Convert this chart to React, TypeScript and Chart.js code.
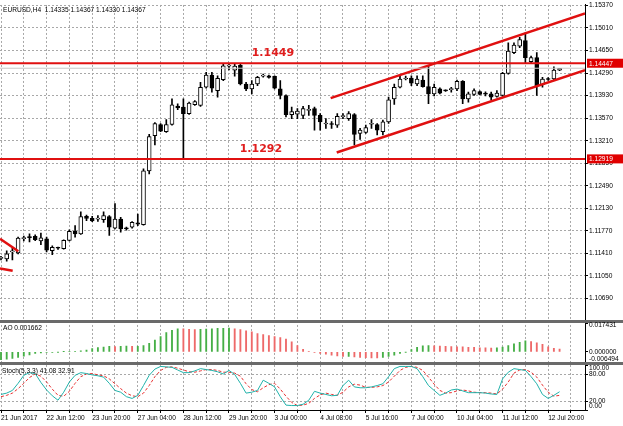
import React, { useEffect, useRef } from "react";
import { Chart, registerables } from "chart.js";

Chart.register(...registerables);

// ---------- headers ----------
const symbolHeader = "EURUSD,H4  1.14335 1.14367 1.14330 1.14367";
const aoHeader = "AO 0.001662";
const stochHeader = "Stoch(5,3,3) 41.08 32.91";

// ---------- time axis ----------
const timeLabels = [
  "21 Jun 2017", "22 Jun 12:00", "23 Jun 20:00", "27 Jun 04:00", "28 Jun 12:00",
  "29 Jun 20:00", "3 Jul 00:00", "4 Jul 08:00", "5 Jul 16:00", "7 Jul 00:00",
  "10 Jul 04:00", "11 Jul 12:00", "12 Jul 20:00",
];
const barsPerLabel = 8;
const barsPerGrid = 4;
const xMin = -0.175;
const xMax = 102.46;

// ---------- candles (EURUSD H4) ----------
const opens = [
  1.11330, 1.11323, 1.11433, 1.11417, 1.11646, 1.11670, 1.11681, 1.11607, 1.11643, 1.11454,
  1.11496, 1.11485, 1.11618, 1.11760, 1.11722, 1.12001, 1.11970, 1.11958, 1.11949, 1.11996,
  1.11812, 1.11958, 1.11807, 1.11828, 1.11899, 1.11870, 1.12727, 1.13290, 1.13469, 1.13353,
  1.13469, 1.13764, 1.13748, 1.13642, 1.13784, 1.13773, 1.14064, 1.14258, 1.14010, 1.14184,
  1.14400, 1.14337, 1.14415, 1.14116, 1.14037, 1.14116, 1.14242, 1.14247, 1.14237, 1.14037,
  1.13931, 1.13626, 1.13634, 1.13615, 1.13694, 1.13721, 1.13615, 1.13477, 1.13477, 1.13458,
  1.13595, 1.13563, 1.13626, 1.13327, 1.13342, 1.13473, 1.13469, 1.13353, 1.13511, 1.13879,
  1.14064, 1.14195, 1.14210, 1.14116, 1.14179, 1.14073, 1.13958, 1.14037, 1.14013, 1.14026,
  1.14037, 1.14158, 1.13879, 1.13947, 1.13994, 1.13958, 1.13958, 1.13915, 1.13931, 1.14284,
  1.14616, 1.14720, 1.14810, 1.14474, 1.14537, 1.14105, 1.14202, 1.14195, 1.14335,
];
const highs = [
  1.11362, 1.11449, 1.11496, 1.11670, 1.11686, 1.11722, 1.11706, 1.11733, 1.11670, 1.11530,
  1.11512, 1.11627, 1.11785, 1.11854, 1.12075, 1.12022, 1.12001, 1.12012, 1.12075, 1.12012,
  1.12206, 1.11985, 1.11828, 1.11917, 1.12037, 1.12759, 1.13311, 1.13500, 1.13484, 1.13548,
  1.13879, 1.13800, 1.13879, 1.13827, 1.13852, 1.14142, 1.14300, 1.14300, 1.14247, 1.14447,
  1.14447, 1.14431, 1.14431, 1.14142, 1.14168, 1.14237, 1.14273, 1.14258, 1.14247, 1.14168,
  1.13942, 1.13748, 1.13721, 1.13757, 1.13773, 1.13748, 1.13642, 1.13563, 1.13516, 1.13642,
  1.13642, 1.13674, 1.13642, 1.13406, 1.13458, 1.13548, 1.13484, 1.13537, 1.13906, 1.14116,
  1.14247, 1.14242, 1.14247, 1.14247, 1.14247, 1.14404, 1.14116, 1.14053, 1.14021, 1.14064,
  1.14179, 1.14168, 1.13985, 1.14037, 1.14005, 1.13989, 1.13985, 1.14010, 1.14300, 1.14774,
  1.14774, 1.14862, 1.14931, 1.14562, 1.14616, 1.14221, 1.14218, 1.14389, 1.14367,
];
const lows = [
  1.11307, 1.11286, 1.11307, 1.11401, 1.11607, 1.11591, 1.11611, 1.11548, 1.11433, 1.11390,
  1.11472, 1.11476, 1.11607, 1.11670, 1.11712, 1.11933, 1.11917, 1.11922, 1.11906, 1.11697,
  1.11801, 1.11749, 1.11780, 1.11812, 1.11854, 1.11859, 1.12680, 1.13142, 1.13353, 1.13342,
  1.13458, 1.13705, 1.12925, 1.13631, 1.13773, 1.13757, 1.14048, 1.13985, 1.13906, 1.14168,
  1.14341, 1.14242, 1.14100, 1.14010, 1.13958, 1.14089, 1.14226, 1.14210, 1.14037, 1.13879,
  1.13590, 1.13563, 1.13563, 1.13563, 1.13615, 1.13379, 1.13379, 1.13406, 1.13406, 1.13421,
  1.13563, 1.13532, 1.13142, 1.13232, 1.13327, 1.13406, 1.13300, 1.13300, 1.13484, 1.13789,
  1.14053, 1.14179, 1.14089, 1.14089, 1.14064, 1.13800, 1.13926, 1.13958, 1.13997, 1.13985,
  1.14010, 1.13800, 1.13827, 1.13931, 1.13942, 1.13926, 1.13863, 1.13906, 1.13915, 1.14273,
  1.14600, 1.14695, 1.14458, 1.14442, 1.13931, 1.14064, 1.14171, 1.14168, 1.14330,
];
const closes = [
  1.11338, 1.11401, 1.11449, 1.11654, 1.11654, 1.11662, 1.11627, 1.11659, 1.11460, 1.11507,
  1.11491, 1.11618, 1.11760, 1.11722, 1.11996, 1.11970, 1.11927, 1.11962, 1.12012, 1.11828,
  1.11958, 1.11801, 1.11801, 1.11906, 1.11875, 1.12727, 1.13275, 1.13484, 1.13363, 1.13469,
  1.13784, 1.13732, 1.13642, 1.13811, 1.13836, 1.14064, 1.14258, 1.14048, 1.14206, 1.14404,
  1.14408, 1.14400, 1.14116, 1.14037, 1.14116, 1.14221, 1.14258, 1.14221, 1.14048, 1.13931,
  1.13626, 1.13674, 1.13682, 1.13721, 1.13701, 1.13615, 1.13511, 1.13484, 1.13469, 1.13600,
  1.13603, 1.13642, 1.13311, 1.13379, 1.13421, 1.13480, 1.13379, 1.13511, 1.13863, 1.14064,
  1.14195, 1.14210, 1.14127, 1.14195, 1.14073, 1.13958, 1.14064, 1.13969, 1.14005, 1.14029,
  1.14158, 1.13879, 1.13958, 1.14010, 1.13947, 1.13953, 1.13906, 1.13969, 1.14284, 1.14641,
  1.14736, 1.14826, 1.14537, 1.14537, 1.14089, 1.14195, 1.14187, 1.14337, 1.14367,
];

// ---------- Awesome Oscillator ----------
const aoValues = [
  -0.0048, -0.0044, -0.0040, -0.0034, -0.0026, -0.0018, -0.0010, -0.0006, -0.0004, -0.0003,
  -0.0002, 0.0001, 0.0002, 0.0003, 0.0006, 0.0010, 0.0020, 0.0026, 0.0029, 0.0033,
  0.0032, 0.0033, 0.0035, 0.0033, 0.0034, 0.0038, 0.0051, 0.0072, 0.0092, 0.0116,
  0.0130, 0.0140, 0.0139, 0.0137, 0.0135, 0.0136, 0.0138, 0.0140, 0.0142, 0.0143,
  0.0144, 0.0140, 0.0135, 0.0127, 0.0121, 0.0110, 0.0104, 0.0098, 0.0092, 0.0086,
  0.0077, 0.0060, 0.0038, 0.0015, 0.0003, -0.0003, -0.0010, -0.0014, -0.0020, -0.0025,
  -0.0028, -0.0027, -0.0030, -0.0033, -0.0035, -0.0036, -0.0037, -0.0034, -0.0028, -0.0020,
  -0.0010, -0.0002, 0.0014, 0.0028, 0.0036, 0.0038, 0.0037, 0.0035, 0.0034, 0.0032,
  0.0031, 0.0030, 0.0028, 0.0027, 0.0025, 0.0024, 0.0023, 0.0025, 0.0029, 0.0038,
  0.0048, 0.0058, 0.0066, 0.0062, 0.0055, 0.0045, 0.0030, 0.0022, 0.001662,
];

// ---------- Stochastic (5,3,3) ----------
const stochMain = [
  35, 38, 44, 60, 78, 84, 82, 62, 45, 32,
  22, 40, 63, 78, 84, 82, 79, 77, 74, 60,
  44, 40, 30, 26, 33, 55, 78, 92, 98, 97,
  96, 90, 84, 84, 88, 93, 91, 89, 86, 81,
  89, 80, 60, 38, 40, 44, 67, 60, 52, 30,
  11, 10, 10, 13, 22, 42, 38, 35, 32, 33,
  55, 67, 52, 50, 50, 52, 55, 59, 75, 93,
  98, 98, 98, 93, 75, 55, 44, 33, 38, 45,
  47, 43, 39, 39, 39, 38, 36, 35, 70, 85,
  93, 91, 89, 75, 59, 35, 26, 33, 41.08,
];
const stochSignal = [
  30, 33, 38, 48, 60, 73, 81, 76, 63, 47,
  33, 31, 42, 60, 75, 81, 82, 79, 77, 70,
  59, 48, 38, 32, 30, 38, 55, 75, 89, 96,
  97, 94, 90, 86, 85, 88, 91, 91, 89, 85,
  85, 83, 76, 59, 46, 41, 50, 57, 60, 47,
  31, 17, 10, 11, 15, 26, 34, 38, 35, 33,
  40, 52, 58, 56, 51, 51, 52, 55, 63, 76,
  89, 96, 98, 96, 89, 74, 58, 44, 38, 39,
  43, 45, 43, 40, 39, 39, 38, 36, 47, 63,
  83, 90, 91, 85, 74, 56, 40, 31, 32.91,
];

// ---------- axes ----------
const priceTicks = [
  1.10690, 1.11050, 1.11410, 1.11770, 1.12130, 1.12490, 1.12850,
  1.13210, 1.13570, 1.13930, 1.14290, 1.14650, 1.15010, 1.15370,
];
const priceMin = 1.10320;
const priceMax = 1.15378;
const aoTicks = [-0.006494, 0, 0.017431];
const aoMin = -0.007391;
const aoMax = 0.018328;
const stochTicks = [0, 20, 80, 100];
const stochLevels = [20, 80];
const stochMin = 0;
const stochMax = 103.33;

// ---------- drawn objects ----------
const hLevels = [1.14447, 1.12919];
const bidLevel = 1.14367;
const levelTexts = ["1.1449", "1.1292"];
const levelTextX = [47.7, 45.6];
const levelTextY = [1.14605, 1.13074];
const channelUpper = [{ x: 57.84, y: 1.13890 }, { x: 102.46, y: 1.15244 }];
const channelLower = [{ x: 58.9, y: 1.13022 }, { x: 102.46, y: 1.14337 }];
const oldLineA = [{ x: -0.175, y: 1.11643 }, { x: 3.04, y: 1.11444 }];
const oldLineB = [{ x: -0.175, y: 1.11170 }, { x: 2.05, y: 1.11133 }];

const SMALL_FONT = '6.6px "Liberation Sans", Arial, sans-serif';
const GRID = "#a8a8a8";
const GRID_DASH = [2, 2];

const overlayPlugin = {
  id: "mtOverlay",
  afterDraw(chart: any) {
    const ctx = chart.ctx as CanvasRenderingContext2D;
    const area = chart.chartArea;
    const sx = chart.scales.x;
    const sy = chart.scales.y;
    const sAO = chart.scales.yAO;
    const sSt = chart.scales.ySt;
    ctx.save();

    // text annotations of the levels
    ctx.font = 'bold 11px "DejaVu Sans", sans-serif';
    ctx.fillStyle = "#e01e1e";
    ctx.textAlign = "center";
    ctx.textBaseline = "middle";
    levelTexts.forEach((t, k) => {
      ctx.fillText(t, sx.getPixelForValue(levelTextX[k]), sy.getPixelForValue(levelTextY[k]));
    });

    // panel separators
    ctx.fillStyle = "#6a6a6a";
    [sy.bottom, sAO.bottom].forEach((b: number) => {
      ctx.fillRect(0, Math.floor(b - 1.5), chart.width, 3);
    });

    // window headers
    ctx.font = SMALL_FONT;
    ctx.fillStyle = "#000";
    ctx.textAlign = "left";
    ctx.textBaseline = "middle";
    ctx.fillText(symbolHeader, 3, area.top + 5.5);
    ctx.fillText(aoHeader, 3, sAO.top + 6.5);
    ctx.fillText(stochHeader, 2, sSt.top + 7.5);

    // sub-window axis labels (kept inside their window)
    const drawLabels = (scale: any, values: number[], digits: number, top: number, bottom: number) => {
      values.forEach((v) => {
        let y = scale.getPixelForValue(v);
        y = Math.min(Math.max(y, top + 2.5), bottom - 3.5);
        ctx.fillText(v.toFixed(digits), area.right + 4, y);
      });
    };
    drawLabels(sAO, aoTicks, 6, sAO.top + 1.5, sAO.bottom - 1.5);
    drawLabels(sSt, stochTicks, 2, sSt.top + 1.5, sSt.bottom);

    // price boxes of the horizontal lines
    hLevels.forEach((lv) => {
      const y = sy.getPixelForValue(lv);
      ctx.fillStyle = "#e00000";
      ctx.fillRect(area.right + 2, y - 4.5, chart.width - area.right - 2, 9);
      ctx.fillStyle = "#ffffff";
      ctx.fillText(lv.toFixed(5), area.right + 4, y + 0.5);
    });
    ctx.restore();
  },
};

const lineDs = (data: { x: number; y: number }[], color: string, width: number, yAxisID = "y", dash: number[] = []) => ({
  type: "line" as const,
  data,
  borderColor: color,
  backgroundColor: color,
  borderWidth: width,
  borderDash: dash,
  pointRadius: 0,
  tension: 0,
  fill: false,
  yAxisID,
  xAxisID: "x",
  order: 0,
});

export default function App() {
  const ref = useRef<HTMLCanvasElement>(null);

  useEffect(() => {
    document.body.style.margin = "0";
    Chart.defaults.font.family = '"Liberation Sans", Arial, sans-serif';
    const idx = opens.map((_, i) => i);
    const bull = idx.map((i) => closes[i] >= opens[i]);
    const aoColors = aoValues.map((v, i) =>
      i === 0 || v >= aoValues[i - 1] ? "rgb(70,175,70)" : "rgb(238,105,105)"
    );
    const gridTicks: number[] = [];
    for (let v = 0; v <= xMax; v += barsPerGrid) gridTicks.push(v);

    const chart = new Chart(ref.current as HTMLCanvasElement, {
      type: "bar",
      data: {
        datasets: [
          lineDs([{ x: xMin, y: hLevels[0] }, { x: xMax, y: hLevels[0] }], "#e01010", 2),
          lineDs([{ x: xMin, y: hLevels[1] }, { x: xMax, y: hLevels[1] }], "#e01010", 2),
          lineDs([{ x: xMin, y: bidLevel }, { x: xMax, y: bidLevel }], "#c8c8c8", 1),
          lineDs(channelUpper, "#e01010", 2.5),
          lineDs(channelLower, "#e01010", 2.5),
          lineDs(oldLineA, "#e01010", 2.5),
          lineDs(oldLineB, "#e01010", 2.5),
          {
            type: "bar",
            data: idx.map((i) => ({ x: i, y: [opens[i], closes[i]] })),
            backgroundColor: idx.map((i) => (bull[i] ? "#ffffff" : "#000000")),
            borderColor: "#000000",
            borderWidth: 1,
            borderSkipped: false,
            barThickness: 4,
            minBarLength: 1,
            grouped: false,
            yAxisID: "y",
            xAxisID: "x",
            order: 1,
          },
          {
            type: "bar",
            data: idx.map((i) => ({ x: i, y: [lows[i], highs[i]] })),
            backgroundColor: "#000000",
            borderWidth: 0,
            barThickness: 1,
            grouped: false,
            yAxisID: "y",
            xAxisID: "x",
            order: 2,
          },
          {
            type: "bar",
            data: idx.map((i) => ({ x: i, y: aoValues[i] })),
            backgroundColor: aoColors,
            borderWidth: 0,
            barThickness: 1.2,
            grouped: false,
            yAxisID: "yAO",
            xAxisID: "x",
            order: 1,
          },
          lineDs(idx.map((i) => ({ x: i, y: stochMain[i] })), "#20b2aa", 1, "ySt"),
          lineDs(idx.map((i) => ({ x: i, y: stochSignal[i] })), "#e83030", 1, "ySt", [3, 2]),
        ] as any,
      },
      options: {
        animation: false,
        responsive: false,
        maintainAspectRatio: false,
        events: [],
        layout: { padding: 0 },
        plugins: { legend: { display: false }, tooltip: { enabled: false } },
        scales: {
          x: {
            type: "linear",
            position: "bottom",
            min: xMin,
            max: xMax,
            offset: false,
            afterBuildTicks: (s: any) => {
              s.ticks = gridTicks.map((v) => ({ value: v }));
            },
            afterFit: (s: any) => {
              s.height = 16;
            },
            ticks: {
              autoSkip: false,
              maxRotation: 0,
              minRotation: 0,
              align: "start",
              padding: 1,
              color: "#000",
              font: { size: 6.6 },
              callback: (v: any) => {
                const n = Math.round(Number(v));
                return n % barsPerLabel === 0 ? timeLabels[n / barsPerLabel] ?? "" : "";
              },
            },
            grid: { color: GRID, lineWidth: 1, offset: false, tickLength: 3, tickColor: "#000" },
            border: { display: true, color: "#000", dash: GRID_DASH },
          },
          y: {
            type: "linear",
            position: "right",
            stack: "panes",
            stackWeight: 320.5,
            min: priceMin,
            max: priceMax,
            beginAtZero: false,
            afterBuildTicks: (s: any) => {
              s.ticks = priceTicks.map((v) => ({ value: v }));
            },
            afterFit: (s: any) => {
              s.width = 38;
            },
            ticks: {
              color: "#000",
              padding: 1,
              font: { size: 6.6 },
              callback: (v: any) => Number(v).toFixed(5),
            },
            grid: { color: GRID, lineWidth: 1, tickLength: 3, tickColor: "#000" },
            border: { display: true, color: "#000", dash: GRID_DASH },
          },
          yAO: {
            type: "linear",
            position: "right",
            stack: "panes",
            stackWeight: 43,
            min: aoMin,
            max: aoMax,
            beginAtZero: false,
            afterBuildTicks: (s: any) => {
              s.ticks = aoTicks.map((v) => ({ value: v }));
            },
            afterFit: (s: any) => {
              s.width = 38;
            },
            ticks: { display: false },
            grid: { color: "rgba(0,0,0,0)", tickLength: 3, tickColor: "#000" },
            border: { display: true, color: "#000" },
          },
          ySt: {
            type: "linear",
            position: "right",
            stack: "panes",
            stackWeight: 46.5,
            min: stochMin,
            max: stochMax,
            beginAtZero: false,
            afterBuildTicks: (s: any) => {
              s.ticks = stochTicks.map((v) => ({ value: v }));
            },
            afterFit: (s: any) => {
              s.width = 38;
            },
            ticks: { display: false },
            grid: {
              color: (c: any) => (c.tick && stochLevels.includes(c.tick.value) ? GRID : "rgba(0,0,0,0)"),
              tickLength: 3,
              tickColor: "#000",
            },
            border: { display: true, color: "#000", dash: GRID_DASH },
          },
        } as any,
      },
      plugins: [overlayPlugin],
    });
    return () => chart.destroy();
  }, []);

  return (
    <canvas
      ref={ref}
      width={623}
      height={426}
      style={{ display: "block", width: "623px", height: "426px" }}
    />
  );
}
